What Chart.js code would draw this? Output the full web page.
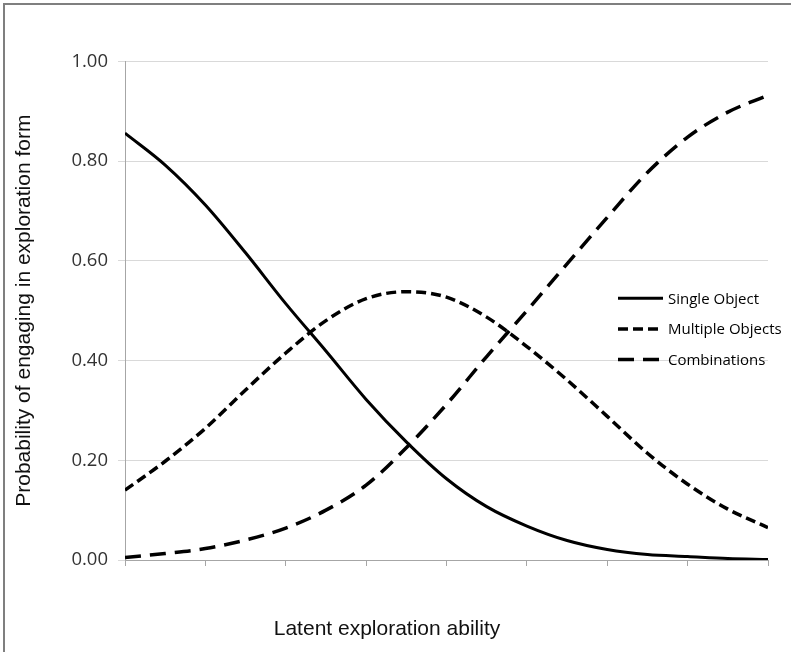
<!DOCTYPE html>
<html>
<head>
<meta charset="utf-8">
<title>Probability of engaging in exploration form</title>
<script src="https://cdn.jsdelivr.net/npm/chart.js@4.4.1/dist/chart.umd.min.js"></script>
<style>
  html, body { margin: 0; padding: 0; background: #fff; overflow: hidden; }
  .frame { position: absolute; left: 3px; top: 3px; width: 786px; height: 649px; border-left: 2px solid #7f7f7f; border-top: 2px solid #7f7f7f; }
  .js-holder { position: absolute; left: 6px; top: 6px; width: 785px; height: 646px; }
</style>
</head>
<body>
<div class="frame"></div>
<div class="js-holder"><canvas id="myChart" width="785" height="646"></canvas></div>
<script>
// latent ability, in steps of half a tick (axis has no labels)
const abilitySteps = [0, 0.5, 1, 1.5, 2, 2.5, 3, 3.5, 4, 4.5, 5, 5.5, 6, 6.5, 7, 7.5, 8];

const singleObject = [0.856, 0.792, 0.712, 0.616, 0.514, 0.419, 0.322, 0.237, 0.163, 0.107, 0.068, 0.039, 0.021, 0.011, 0.007, 0.003, 0.001];
const multipleObjects = [0.140, 0.198, 0.264, 0.341, 0.415, 0.480, 0.524, 0.538, 0.527, 0.487, 0.428, 0.361, 0.288, 0.214, 0.152, 0.102, 0.065];
const combinations = [0.005, 0.013, 0.023, 0.040, 0.064, 0.100, 0.150, 0.225, 0.312, 0.408, 0.500, 0.594, 0.687, 0.777, 0.848, 0.898, 0.932];

const seriesNames = ['Single Object', 'Multiple Objects', 'Combinations'];

const toPoints = function (values) {
  return values.map(function (v, i) {
    return { x: abilitySteps[i], y: v };
  });
};

// legend drawn inside the plot, to the right
const sketchLegend = {
  id: 'sketchLegend',
  afterDraw: function (chart) {
    const ctx = chart.ctx;
    ctx.save();
    ctx.font = '15px "Open Sans"';
    ctx.textBaseline = 'middle';
    ctx.textAlign = 'left';
    ctx.fillStyle = '#000';
    chart.data.datasets.forEach(function (set, i) {
      const y = 292.3 + i * 30.6;
      ctx.beginPath();
      ctx.setLineDash(set.borderDash || []);
      ctx.lineWidth = set.borderWidth;
      ctx.strokeStyle = set.borderColor;
      ctx.moveTo(612, y);
      ctx.lineTo(657, y);
      ctx.stroke();
      ctx.setLineDash([]);
      ctx.fillText(set.label, 662, y + 1);
    });
    ctx.restore();
  },
};

const myChart = function () {
  const ctx = document.getElementById('myChart').getContext('2d');
  new Chart(ctx, {
    type: 'line',
    data: {
      datasets: [
        { label: seriesNames[0], data: toPoints(singleObject), borderColor: '#000', borderWidth: 3, borderDash: [] },
        { label: seriesNames[1], data: toPoints(multipleObjects), borderColor: '#000', borderWidth: 3.5, borderDash: [10, 5] },
        { label: seriesNames[2], data: toPoints(combinations), borderColor: '#000', borderWidth: 3.5, borderDash: [16, 9] },
      ],
    },
    options: {
      responsive: false,
      animation: false,
      devicePixelRatio: 1,
      layout: { padding: { top: 55.3, right: 23, left: 0, bottom: 0 } },
      elements: {
        point: { radius: 0 },
        line: { cubicInterpolationMode: 'monotone', fill: false },
      },
      plugins: {
        legend: { display: false },
        tooltip: { enabled: false },
        title: {
          display: true,
          position: 'bottom',
          text: 'Latent exploration ability',
          color: '#111',
          font: { family: '"Liberation Sans", Arial', size: 21, weight: 'normal' },
          padding: { top: 0, bottom: 10.4 },
        },
      },
      scales: {
        x: {
          type: 'linear',
          min: 0,
          max: 8,
          ticks: { display: false, stepSize: 1 },
          grid: { drawOnChartArea: false, drawTicks: true, tickLength: 6, color: '#a6a6a6' },
          border: { color: '#a6a6a6' },
          afterFit: function (scale) {
            scale.height = 56.4;
          },
        },
        y: {
          min: 0,
          max: 1,
          ticks: {
            stepSize: 0.2,
            padding: 10,
            color: '#333',
            font: { family: '"Open Sans"', size: 18.5 },
            callback: function (v) {
              return v.toFixed(2);
            },
          },
          grid: { color: '#d9d9d9', tickLength: 7 },
          border: { color: '#a6a6a6' },
          title: {
            display: true,
            text: 'Probability of engaging in exploration form',
            color: '#111',
            font: { family: '"Liberation Sans", Arial', size: 21, weight: 'normal' },
            padding: { top: 6, bottom: 0 },
          },
          afterFit: function (scale) {
            scale.width = 119;
          },
        },
      },
    },
    plugins: [sketchLegend],
  });
};

document.addEventListener('DOMContentLoaded', function () {
  myChart();
});
</script>
</body>
</html>
